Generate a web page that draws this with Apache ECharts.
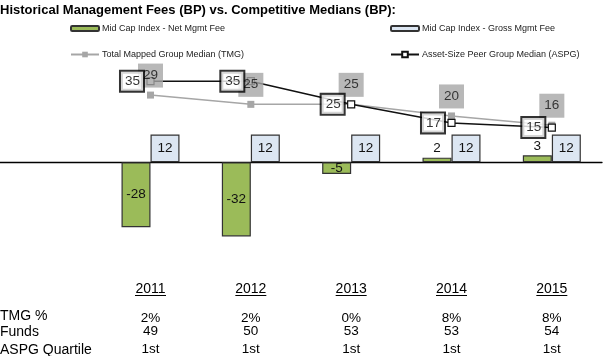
<!DOCTYPE html>
<html><head><meta charset="utf-8">
<script src="https://cdn.jsdelivr.net/npm/echarts@6/dist/echarts.min.js"></script>
<style>html,body{margin:0;padding:0;background:#fff}#c{width:608px;height:356px}</style>
</head><body><div id="c"></div>
<script>
const years = ['2011','2012','2013','2014','2015'];
const netFee = [-28, -32, -5, 2, 3];
const grossFee = [12, 12, 12, 12, 12];
const tmgMedian = [29, 25, 25, 20, 16];
const aspgMedian = [35, 35, 25, 17, 15];
const tmgPct = ['2%','2%','0%','8%','8%'];
const funds = ['49','50','53','53','54'];
const aspgQuartile = ['1st','1st','1st','1st','1st'];
const rowLabels = ['TMG %','Funds','ASPG Quartile'];

const FONT = 'Arial, "Liberation Sans", sans-serif';
const idx = years.map((_, i) => i);
const pts = arr => arr.map((v, i) => [i, v]);

const chart = echarts.init(document.getElementById('c'), null, {renderer:'canvas'});
const legendText = {fontSize: 9, color: '#222', fontFamily: FONT, padding: [0, 0, 0, -2]};
chart.setOption({
  animation: false,
  title: {text: 'Historical Management Fees (BP) vs. Competitive Medians (BP):', left: 0, top: 4, padding: 0,
    textStyle: {fontSize: 13, fontWeight: 'bold', color: '#000', fontFamily: FONT}},
  legend: [
    {data: ['Mid Cap Index - Net Mgmt Fee'], left: 70, top: 24, padding: 0, itemWidth: 28, itemHeight: 5, textStyle: legendText, selectedMode: false},
    {data: ['Mid Cap Index - Gross Mgmt Fee'], left: 390, top: 24, padding: 0, itemWidth: 28, itemHeight: 5, textStyle: legendText, selectedMode: false},
    {data: ['Total Mapped Group Median (TMG)'], left: 70, top: 50, padding: 0, itemWidth: 28, itemHeight: 7, textStyle: legendText, selectedMode: false},
    {data: ['Asset-Size Peer Group Median (ASPG)'], left: 390, top: 50, padding: 0, itemWidth: 28, itemHeight: 7, textStyle: legendText, selectedMode: false}
  ],
  grid: {left: 0, width: 602, top: 58, height: 197},
  xAxis: {type: 'value', min: -1.5, max: 4.5, splitLine: {show: false}, axisLabel: {show: false}, axisTick: {show: false},
    axisLine: {show: true, onZero: true, lineStyle: {color: '#000', width: 1.3}}},
  yAxis: {type: 'value', min: -40, max: 45, show: false, splitLine: {show: false}},
  series: [
    {name: 'Mid Cap Index - Net Mgmt Fee', type: 'bar', barWidth: 29, barGap: '0%', z: 2,
      data: netFee.map((v, i) => ({value: [i, v], label: {position: v > 0 ? 'top' : 'inside'}})),
      itemStyle: {color: '#9BBB59', borderColor: '#333', borderWidth: 1.2},
      label: {show: true, fontSize: 13.5, color: '#111', fontFamily: FONT, distance: 2, formatter: p => p.value[1]}},
    {name: 'Mid Cap Index - Gross Mgmt Fee', type: 'bar', data: pts(grossFee), barWidth: 29, barGap: '0%', z: 2,
      itemStyle: {color: '#DCE6F2', borderColor: '#333', borderWidth: 1.2},
      label: {show: true, position: 'inside', fontSize: 13.5, color: '#111', fontFamily: FONT, formatter: p => p.value[1]}},
    {name: 'Total Mapped Group Median (TMG)', type: 'line', data: pts(tmgMedian), z: 3,
      symbol: 'rect', symbolSize: 7, showAllSymbol: true,
      lineStyle: {color: '#A6A6A6', width: 1.5}, itemStyle: {color: '#A6A6A6', borderWidth: 0}},
    {name: 'Asset-Size Peer Group Median (ASPG)', type: 'line', data: pts(aspgMedian), z: 4,
      symbol: 'rect', symbolSize: 7, showAllSymbol: true,
      lineStyle: {color: '#111', width: 1.5}, itemStyle: {color: '#fff', borderColor: '#111', borderWidth: 1.2}},
    {name: 'tmgLabels', type: 'scatter', data: pts(tmgMedian), z: 5, symbol: 'rect', symbolSize: 7,
      itemStyle: {color: 'rgba(0,0,0,0)'}, silent: true,
      label: {show: true, position: 'top', distance: 4, formatter: p => p.value[1], fontSize: 13.5, color: '#111', fontFamily: FONT,
        backgroundColor: '#A6A6A6', padding: [5, 5, 6, 5], lineHeight: 13}},
    {name: 'aspgLabels', type: 'scatter', data: pts(aspgMedian), z: 6, symbol: 'rect', symbolSize: 7,
      itemStyle: {color: 'rgba(0,0,0,0)'}, silent: true,
      label: {show: true, position: 'left', distance: 4, formatter: p => p.value[1], fontSize: 13.5, color: '#000', fontFamily: FONT,
        backgroundColor: '#fff', borderColor: '#000', borderWidth: 2, padding: [3, 3, 3, 4], lineHeight: 13}}
  ]
});

// bottom table through the x scale
const g = [];
const labelY = [316, 332, 350];
const valueY = [318, 331, 349];
const rows = [tmgPct, funds, aspgQuartile];
rowLabels.forEach((t, r) => g.push({type: 'text', x: 0, y: labelY[r],
  style: {text: t, font: '14px ' + FONT, fill: '#000', verticalAlign: 'middle'}}));
idx.forEach(i => {
  const x = chart.convertToPixel({gridIndex: 0}, [i, 0])[0];
  g.push({type: 'text', x: x, y: 289, style: {text: years[i], font: '14px ' + FONT, fill: '#000', align: 'center', verticalAlign: 'middle'}});
  g.push({type: 'line', shape: {x1: x - 15.5, y1: 295.5, x2: x + 15.5, y2: 295.5}, style: {stroke: '#000', lineWidth: 1}});
  rows.forEach((arr, r) => g.push({type: 'text', x: x, y: valueY[r], style: {text: arr[i], font: '13.5px ' + FONT, fill: '#000', align: 'center', verticalAlign: 'middle'}}));
});
chart.setOption({graphic: g});
</script></body></html>
